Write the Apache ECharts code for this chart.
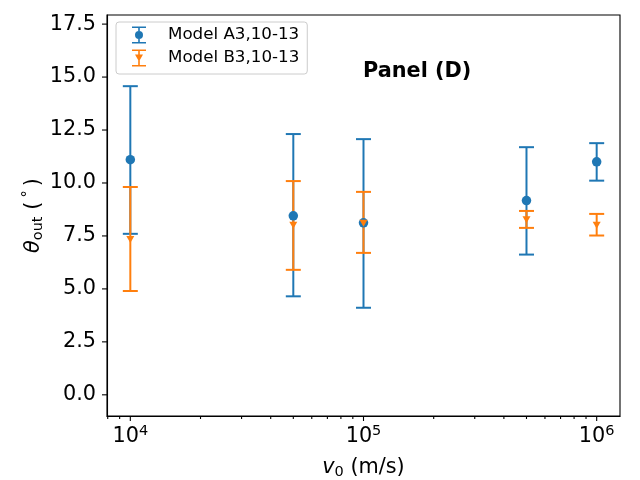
<!DOCTYPE html>
<html>
<head>
<meta charset="utf-8">
<script src="https://cdn.jsdelivr.net/npm/echarts@6/dist/echarts.min.js"></script>
<style>
  html, body { margin: 0; padding: 0; background: #fff; }
  #chart { width: 640px; height: 480px; }
</style>
</head>
<body>
<div id="chart"></div>
<script>
// speeds (m/s)
const speeds = [1e4, 5e4, 1e5, 5e5, 1e6];

// Model A3: mean, lower and upper error bar ends
const a3Mean = [11.1, 8.45, 8.12, 9.17, 11.0];
const a3Low = [7.6, 4.65, 4.11, 6.62, 10.11];
const a3High = [14.57, 12.31, 12.07, 11.69, 11.88];

// Model B3
const b3Mean = [7.33, 8.0, 8.1, 8.27, 8.0];
const b3Low = [4.9, 5.9, 6.7, 7.88, 7.52];
const b3High = [9.81, 10.09, 9.58, 8.68, 8.54];

// axis ticks
const xMajor = [1e4, 1e5, 1e6];
const xMinor = [8e3, 9e3, 2e4, 3e4, 4e4, 5e4, 6e4, 7e4, 8e4, 9e4,
                2e5, 3e5, 4e5, 5e5, 6e5, 7e5, 8e5, 9e5];
const yTicks = [0, 2.5, 5, 7.5, 10, 12.5, 15, 17.5];

const xMin = Math.pow(10, 3.9), xMax = Math.pow(10, 6.1);
const yMin = -1, yMax = 17.93;

const blue = '#1f77b4', orange = '#ff7f0e';
const font = 'DejaVu Sans';
const fs = 20.8;

const iconA = 'path://M0,0 L14,0 L14,1.6 L0,1.6 Z M0,15.4 L14,15.4 L14,17 L0,17 Z ' +
  'M6.2,1.6 L7.8,1.6 L7.8,4.6 L6.2,4.6 Z M6.2,12.4 L7.8,12.4 L7.8,15.4 L6.2,15.4 Z ' +
  'M3,8.5 A4,4 0 1,1 11,8.5 A4,4 0 1,1 3,8.5 Z';
const iconB = 'path://M0,0 L14,0 L14,1.6 L0,1.6 Z M0,15.4 L14,15.4 L14,17 L0,17 Z ' +
  'M6.2,1.6 L7.8,1.6 L7.8,15.4 L6.2,15.4 Z M3,5 L11,5 L7,12 Z';

function errorSeries(name, color, lows, highs) {
  return {
    name: name,
    type: 'custom',
    data: speeds.map((x, i) => [x, lows[i], highs[i]]),
    encode: { x: 0, y: [1, 2] },
    renderItem: function (params, api) {
      const x = api.value(0);
      const top = api.coord([x, api.value(2)]);
      const bot = api.coord([x, api.value(1)]);
      const cap = 7.5;
      const st = { stroke: color, lineWidth: 2 };
      return {
        type: 'group',
        children: [
          { type: 'line', shape: { x1: top[0], y1: top[1], x2: bot[0], y2: bot[1] }, style: st },
          { type: 'line', shape: { x1: top[0] - cap, y1: top[1], x2: top[0] + cap, y2: top[1] }, style: st },
          { type: 'line', shape: { x1: bot[0] - cap, y1: bot[1], x2: bot[0] + cap, y2: bot[1] }, style: st }
        ]
      };
    },
    silent: true
  };
}

function tickSeries(vals, horizontal, len) {
  return {
    type: 'custom',
    data: vals.map(v => horizontal ? [v, yMin] : [xMin, v]),
    renderItem: function (params, api) {
      const p = api.coord([api.value(0), api.value(1)]);
      const shape = horizontal
        ? { x1: p[0], y1: p[1], x2: p[0], y2: p[1] + len }
        : { x1: p[0], y1: p[1], x2: p[0] - len, y2: p[1] };
      return { type: 'line', shape: shape, style: { stroke: '#000', lineWidth: 1.1 } };
    },
    clip: false,
    silent: true,
    z: 10
  };
}

const chart = echarts.init(document.getElementById('chart'));
chart.setOption({
  animation: false,
  backgroundColor: '#fff',
  textStyle: { fontFamily: font },
  title: {
    text: 'Panel (D)',
    left: 363,
    top: 61,
    padding: 0,
    textStyle: { fontFamily: font, fontSize: fs, fontWeight: 'bold', color: '#000' }
  },
  legend: {
    orient: 'vertical',
    left: 116,
    top: 22,
    padding: [3.5, 8, 6.5, 16],
    itemGap: 4,
    itemWidth: 14,
    itemHeight: 17,
    borderColor: '#cccccc',
    borderWidth: 1,
    borderRadius: 3,
    backgroundColor: 'rgba(255,255,255,0.8)',
    textStyle: { fontFamily: font, fontSize: 16.7, color: '#000', padding: [0, 0, 0, 17], lineHeight: 19 },
    data: [
      { name: 'Model A3,10-13', icon: iconA },
      { name: 'Model B3,10-13', icon: iconB }
    ]
  },
  grid: {
    left: 107, right: 20, top: 15, bottom: 64,
    outerBoundsMode: 'none',
    containLabel: false,
    show: true, borderColor: '#000', borderWidth: 1.1
  },
  xAxis: {
    type: 'log',
    logBase: 10,
    min: xMin,
    max: xMax,
    name: '{i|v}{sub|0}{n| (m/s)}',
    nameLocation: 'middle',
    nameGap: 40,
    nameTextStyle: {
      rich: {
        i: { fontFamily: font, fontSize: fs, fontStyle: 'italic', color: '#000' },
        sub: { fontFamily: font, fontSize: 14.5, color: '#000', padding: [9, 0, 0, 0] },
        n: { fontFamily: font, fontSize: fs, color: '#000' }
      }
    },
    axisLine: { onZero: false, lineStyle: { color: '#000', width: 1.1 } },
    axisTick: { show: false },
    splitLine: { show: false },
    axisLabel: {
      margin: 8,
      showMinLabel: false,
      showMaxLabel: false,
      formatter: function (v) {
        return '{b|10}{s|' + Math.round(Math.log10(v)) + '}';
      },
      rich: {
        b: { fontFamily: font, fontSize: fs, color: '#000' },
        s: { fontFamily: font, fontSize: 14.5, color: '#000', padding: [0, 0, 11, 0] }
      }
    }
  },
  yAxis: {
    type: 'value',
    min: yMin,
    max: yMax,
    interval: 0.5,
    name: '{t|θ}{sub|out}{n| (\u2009}{sup|°}{n|\u2009)}',
    nameLocation: 'middle',
    nameRotate: 90,
    nameGap: 60,
    nameMoveOverlap: false,
    nameTextStyle: {
      rich: {
        t: { fontFamily: font, fontSize: fs, fontStyle: 'italic', color: '#000' },
        sub: { fontFamily: font, fontSize: 14.5, color: '#000', padding: [9, 0, 0, 0] },
        n: { fontFamily: font, fontSize: fs, color: '#000' },
        sup: { fontFamily: font, fontSize: 14.5, color: '#000', padding: [0, 0, 11, 0] }
      }
    },
    axisLine: { show: true, lineStyle: { color: '#000', width: 1.1 } },
    axisTick: { show: false },
    splitLine: { show: false },
    axisLabel: {
      margin: 11,
      showMinLabel: false,
      showMaxLabel: false,
      fontFamily: font,
      fontSize: fs,
      color: '#000',
      formatter: function (v) {
        return yTicks.some(t => Math.abs(t - v) < 1e-6) ? v.toFixed(1) : '';
      }
    }
  },
  series: [
    errorSeries('A3 err', blue, a3Low, a3High),
    {
      name: 'Model A3,10-13',
      type: 'scatter',
      data: speeds.map((x, i) => [x, a3Mean[i]]),
      symbol: 'circle',
      symbolSize: 9.5,
      itemStyle: { color: blue, opacity: 1 },
      z: 3
    },
    errorSeries('B3 err', orange, b3Low, b3High),
    {
      name: 'Model B3,10-13',
      type: 'scatter',
      data: speeds.map((x, i) => [x, b3Mean[i]]),
      symbol: 'triangle',
      symbolRotate: 180,
      symbolSize: [8, 7],
      itemStyle: { color: orange, opacity: 1 },
      z: 4
    },
    tickSeries(xMajor, true, 5),
    tickSeries(xMinor, true, 3),
    tickSeries(yTicks, false, 5)
  ]
});
</script>
</body>
</html>
